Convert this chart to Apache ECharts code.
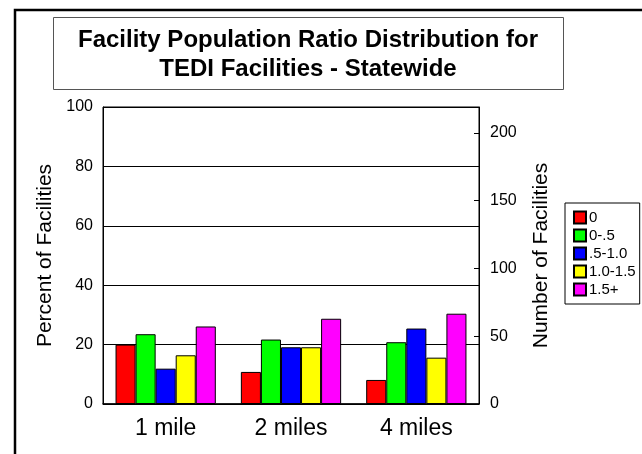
<!DOCTYPE html>
<html>
<head>
<meta charset="utf-8">
<script src="https://cdn.jsdelivr.net/npm/echarts@6/dist/echarts.min.js"></script>
<style>
html,body{margin:0;padding:0;background:#fff;}
#chart{width:642px;height:454px;}
</style>
</head>
<body>
<div id="chart"></div>
<script>
var categories = ['1 mile', '2 miles', '4 miles'];
var seriesNames = ['0', '0-.5', '.5-1.0', '1.0-1.5', '1.5+'];
var ratio0 = [20, 10.8, 8.1];
var ratio0to05 = [23.5, 21.7, 20.8];
var ratio05to10 = [11.9, 19.1, 25.4];
var ratio10to15 = [16.4, 19.1, 15.6];
var ratio15plus = [26.1, 28.7, 30.4];
var leftTicks = [0, 20, 40, 60, 80, 100];
var rightTicks = [0, 50, 100, 150, 200];
var titleLines = ['Facility Population Ratio Distribution for', 'TEDI Facilities - Statewide'];

var colors = ['#ff0000', '#00ff00', '#0000ff', '#ffff00', '#ff00ff'];
var values = [ratio0, ratio0to05, ratio05to10, ratio10to15, ratio15plus];
var FONT = 'Liberation Sans, Arial, sans-serif';

var chart = echarts.init(document.getElementById('chart'));
var series = seriesNames.map(function (n, i) {
  return {
    name: n, type: 'bar', yAxisIndex: 0,
    data: values[i],
    barGap: '0%', barCategoryGap: '20%',
    itemStyle: { color: colors[i], borderColor: '#000', borderWidth: 1 }
  };
});

chart.setOption({
  animation: false,
  backgroundColor: '#fff',
  textStyle: { fontFamily: FONT },
  grid: { left: 103, right: 163, top: 107, bottom: 50, show: true, borderColor: '#000', borderWidth: 1 },
  legend: {
    orient: 'vertical', left: 565, top: 203,
    data: seriesNames,
    itemWidth: 12, itemHeight: 12, itemGap: 3,
    icon: 'rect',
    borderColor: '#000', borderWidth: 1, padding: [7, 4, 7, 8],
    textStyle: { fontFamily: FONT, fontSize: 15, color: '#000', padding: [0, 0, 0, -2] }
  },
  graphic: [
    { type: 'rect', shape: { x: 15, y: 10, width: 700, height: 500 }, style: { fill: 'none', stroke: '#000', lineWidth: 2.5 }, silent: true },
    { type: 'rect', shape: { x: 53.5, y: 17.5, width: 510, height: 72 }, style: { fill: '#fff', stroke: '#555', lineWidth: 1 }, silent: true },
    { type: 'text', style: { x: 308, y: 40, text: titleLines[0], font: 'bold 24px ' + FONT, fill: '#000', textAlign: 'center', textVerticalAlign: 'middle' }, silent: true },
    { type: 'text', style: { x: 308, y: 69, text: titleLines[1], font: 'bold 24px ' + FONT, fill: '#000', textAlign: 'center', textVerticalAlign: 'middle' }, silent: true }
  ],
  xAxis: {
    type: 'category', data: categories,
    axisLine: { lineStyle: { color: '#000', width: 1.5 } },
    axisTick: { inside: true, alignWithLabel: true, length: 5, lineStyle: { color: '#000' } },
    axisLabel: { fontSize: 23, color: '#000', margin: 13, fontFamily: FONT }
  },
  yAxis: [
    {
      type: 'value', min: leftTicks[0], max: leftTicks[leftTicks.length - 1], interval: 20,
      name: 'Percent of Facilities', nameLocation: 'middle', nameGap: 47,
      nameTextStyle: { fontSize: 21, color: '#000', fontFamily: FONT },
      axisLine: { show: true, lineStyle: { color: '#000' } },
      axisTick: { show: false },
      splitLine: { lineStyle: { color: '#000', width: 1 } },
      axisLabel: { fontSize: 16, color: '#000', margin: 10, fontFamily: FONT }
    },
    {
      type: 'value', position: 'right', min: 0, max: 219, interval: 50,
      name: 'Number of Facilities', nameLocation: 'middle', nameGap: 52,
      nameTextStyle: { fontSize: 21, color: '#000', fontFamily: FONT },
      axisLine: { show: true, lineStyle: { color: '#000' } },
      axisTick: { show: true, inside: true, length: 5, lineStyle: { color: '#000' } },
      splitLine: { show: false },
      axisLabel: { fontSize: 16, color: '#000', margin: 11, fontFamily: FONT, showMaxLabel: false,
        formatter: function (v) { return rightTicks.indexOf(v) >= 0 ? String(v) : ''; } }
    }
  ],
  series: series
});
</script>
</body>
</html>
